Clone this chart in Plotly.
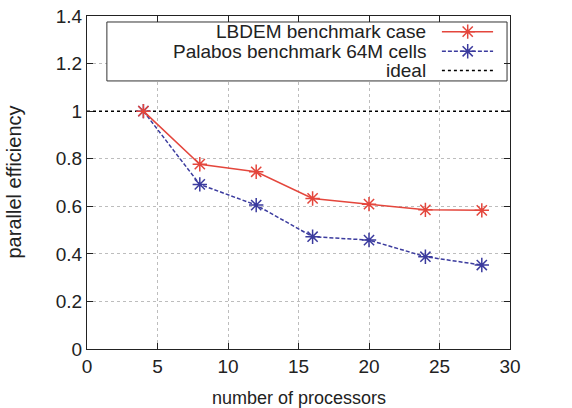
import plotly.graph_objects as go

# Parallel efficiency vs. number of processors
processors = [4, 8, 12, 16, 20, 24, 28]
lbdem_eff = [1.0, 0.777, 0.745, 0.633, 0.609, 0.585, 0.583]
palabos_eff = [1.0, 0.692, 0.605, 0.472, 0.458, 0.388, 0.353]
ideal_x = [0, 30]
ideal_eff = [1.0, 1.0]

series_names = ["LBDEM benchmark case", "Palabos benchmark 64M cells", "ideal"]
x_ticks = [0, 5, 10, 15, 20, 25, 30]
y_ticks = [0, 0.2, 0.4, 0.6, 0.8, 1.0, 1.2, 1.4]

RED = "#e4463c"
BLUE = "#3b3b9e"
INK = "#222"
FONT = "Liberation Sans, Arial, sans-serif"

marker_red = dict(symbol="asterisk-open", size=12, color=RED, line=dict(color=RED, width=1.5))
marker_blue = dict(symbol="asterisk-open", size=12, color=BLUE, line=dict(color=BLUE, width=1.5))

fig = go.Figure()

fig.add_trace(go.Scatter(x=ideal_x, y=ideal_eff, mode="lines", name=series_names[2],
                         line=dict(color="black", width=1.5, dash="dot"), showlegend=False))
fig.add_trace(go.Scatter(x=processors, y=palabos_eff, mode="lines+markers", name=series_names[1],
                         line=dict(color=BLUE, width=1.5, dash="4px,2px"), marker=marker_blue,
                         showlegend=False))
fig.add_trace(go.Scatter(x=processors, y=lbdem_eff, mode="lines+markers", name=series_names[0],
                         line=dict(color=RED, width=1.5), marker=marker_red, showlegend=False))

# Boxed key in the upper part of the plot (overlay axes spanning the plot area 0..1):
# white box over the grid, right-aligned labels, sample line + symbol on the right
box_x0, box_x1, box_y0, box_y1 = 0.047, 0.993, 0.805, 0.982
fig.add_trace(go.Scatter(x=[box_x0, box_x1, box_x1, box_x0, box_x0],
                         y=[box_y0, box_y0, box_y1, box_y1, box_y0],
                         mode="lines", fill="toself", fillcolor="white",
                         line=dict(color="#333", width=1), xaxis="x2", yaxis="y2",
                         showlegend=False, hoverinfo="skip"))

key_rows = [0.953, 0.894, 0.836]
key_x0, key_x1, key_mid, key_text_x = 0.839, 0.960, 0.900, 0.806
key_styles = [
    (dict(color=RED, width=1.5), marker_red),
    (dict(color=BLUE, width=1.5, dash="4px,2px"), marker_blue),
    (dict(color="black", width=1.5, dash="dot"), None),
]
for row, name, (ln, mk) in zip(key_rows, series_names, key_styles):
    fig.add_trace(go.Scatter(x=[key_x0, key_x1], y=[row, row], mode="lines", line=ln,
                             xaxis="x2", yaxis="y2", showlegend=False, hoverinfo="skip"))
    if mk is not None:
        fig.add_trace(go.Scatter(x=[key_mid], y=[row], mode="markers", marker=mk,
                                 xaxis="x2", yaxis="y2", showlegend=False, hoverinfo="skip"))
    fig.add_annotation(x=key_text_x, y=row, xref="x2", yref="y2", text=name, showarrow=False,
                       xanchor="right", yanchor="middle",
                       font=dict(family=FONT, size=19, color=INK))

axis_common = dict(showline=True, linecolor=INK, linewidth=1.2, mirror="allticks",
                   ticks="inside", ticklen=6, tickcolor=INK, automargin=False,
                   showgrid=True, gridcolor="#bdbdbd", gridwidth=1, griddash="dot",
                   zeroline=False, tickfont=dict(family=FONT, size=19, color=INK))

fig.update_layout(
    width=572, height=408,
    margin=dict(l=87, r=62, t=16, b=59, autoexpand=False),
    paper_bgcolor="white", plot_bgcolor="white",
    xaxis=dict(range=[0, 30], tickvals=x_ticks, **axis_common),
    yaxis=dict(range=[0, 1.4], tickvals=y_ticks, **axis_common),
    xaxis2=dict(range=[0, 1], overlaying="x", visible=False, fixedrange=True, automargin=False),
    yaxis2=dict(range=[0, 1], overlaying="y", visible=False, fixedrange=True, automargin=False),
    showlegend=False,
)

fig.add_annotation(text="number of processors", xref="paper", yref="paper", x=0.5, y=0,
                   yshift=-49, showarrow=False, yanchor="middle",
                   font=dict(family=FONT, size=18, color=INK))
fig.add_annotation(text="parallel efficiency", xref="paper", yref="paper", x=0, y=0.5,
                   xshift=-74, showarrow=False, textangle=-90, xanchor="center",
                   font=dict(family=FONT, size=20, color=INK))

fig.write_html("out.html")
